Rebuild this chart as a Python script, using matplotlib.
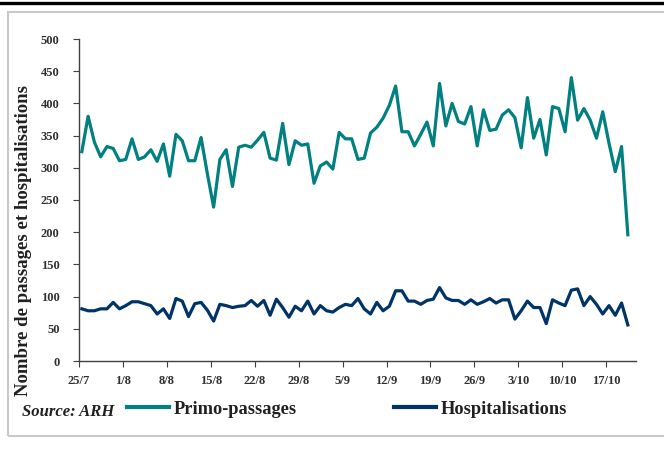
import matplotlib
matplotlib.use("Agg")
import matplotlib.pyplot as plt
from matplotlib.lines import Line2D
from matplotlib.patches import Rectangle

# donnees (une valeur par jour, du 25/7 au 20/10)
primo = [325, 380, 340, 317, 333, 330, 311, 313, 345, 313,
         317, 328, 310, 337, 287, 352, 342, 311, 311, 347,
         291, 239, 313, 328, 271, 332, 335, 332, 343, 355,
         315, 312, 369, 305, 342, 335, 337, 276, 303, 309,
         298, 355, 345, 345, 313, 315, 354, 363, 377, 397,
         427, 356, 356, 334, 352, 371, 334, 431, 365, 400,
         372, 368, 395, 334, 390, 358, 360, 382, 390, 378,
         331, 409, 346, 375, 320, 395, 392, 356, 440, 374,
         392, 374, 346, 387, 338, 294, 333, 196]
hospit = [81, 78, 78, 81, 81, 91, 81, 86, 92, 92,
          89, 86, 73, 81, 66, 97, 93, 69, 89, 91,
          79, 62, 88, 86, 83, 85, 86, 94, 85, 94,
          71, 96, 83, 68, 85, 78, 93, 73, 86, 78,
          76, 83, 88, 86, 97, 81, 73, 91, 78, 85,
          109, 109, 93, 93, 88, 94, 96, 114, 98, 94,
          94, 88, 95, 88, 92, 97, 90, 95, 95, 65,
          78, 93, 83, 83, 58, 95, 90, 86, 110, 112,
          86, 100, 88, 73, 86, 71, 90, 56]
tick_labels = ["25/7", "1/8", "8/8", "15/8", "22/8", "29/8", "5/9",
               "12/9", "19/9", "26/9", "3/10", "10/10", "17/10"]
y_ticks = [0, 50, 100, 150, 200, 250, 300, 350, 400, 450, 500]

vert = "#008080"
bleu = "#003366"
police = "Liberation Serif"

fig = plt.figure(figsize=(6.64, 4.74), dpi=100, facecolor="white")
W, H = 664.0, 474.0

# trait noir en haut et cadre gris
fig.add_artist(Line2D([0, 1], [1 - 3 / H, 1 - 3 / H], color="black", lw=2.4))
fig.add_artist(Rectangle((8 / W, 1 - 436 / H), 700 / W, 424 / H,
                         fill=False, edgecolor="#c8c8c8", lw=1.5,
                         transform=fig.transFigure))

ax = fig.add_axes([79 / W, 1 - 361 / H, (636 - 79) / W, (361 - 39) / H])
x = list(range(len(primo)))
l1, = ax.plot(x, primo, color=vert, lw=2.3, label="Primo-passages")
l2, = ax.plot(x, hospit, color=bleu, lw=2.3, label="Hospitalisations")

ax.set_xlim(-0.45, 88.3)
ax.set_ylim(0, 500)
ax.set_xticks([7 * i - 0.45 for i in range(len(tick_labels))])
ax.set_xticklabels(tick_labels)
ax.set_yticks(y_ticks)
ax.set_yticklabels([str(v) for v in y_ticks])

for s in ["top", "right"]:
    ax.spines[s].set_visible(False)
for s in ["left", "bottom"]:
    ax.spines[s].set_color("#404040")
    ax.spines[s].set_linewidth(1.0)
ax.tick_params(axis="both", direction="out", length=4, color="#404040",
               labelsize=9)
ax.tick_params(axis="y", pad=10)
ax.tick_params(axis="x", pad=6)
for lab in ax.get_xticklabels() + ax.get_yticklabels():
    lab.set_fontfamily(police)
    lab.set_fontweight("bold")
    lab.set_color("#303030")

fig.text(24 / W, 1 - 240 / H, "Nombre de passages et hospitalisations",
         rotation=90, ha="center", va="center", fontsize=13.5,
         fontweight="bold", family=police, color="#202020")

fig.text(22 / W, 1 - 412 / H, "Source: ARH", ha="left", va="center",
         fontsize=12, fontweight="bold", style="italic", family=police,
         color="#202020")

leg = fig.legend(handles=[l1, l2], loc="center left",
                 bbox_to_anchor=(127 / W, 1 - 409 / H), ncol=2,
                 frameon=False, borderpad=0, borderaxespad=0,
                 handlelength=2.3, handletextpad=0.25, columnspacing=5.3,
                 prop={"family": police, "weight": "bold", "size": 13.2})
for t in leg.get_texts():
    t.set_color("#202020")
for h in leg.legend_handles:
    h.set_linewidth(3)

fig.savefig("out.png", dpi=100, facecolor="white")
